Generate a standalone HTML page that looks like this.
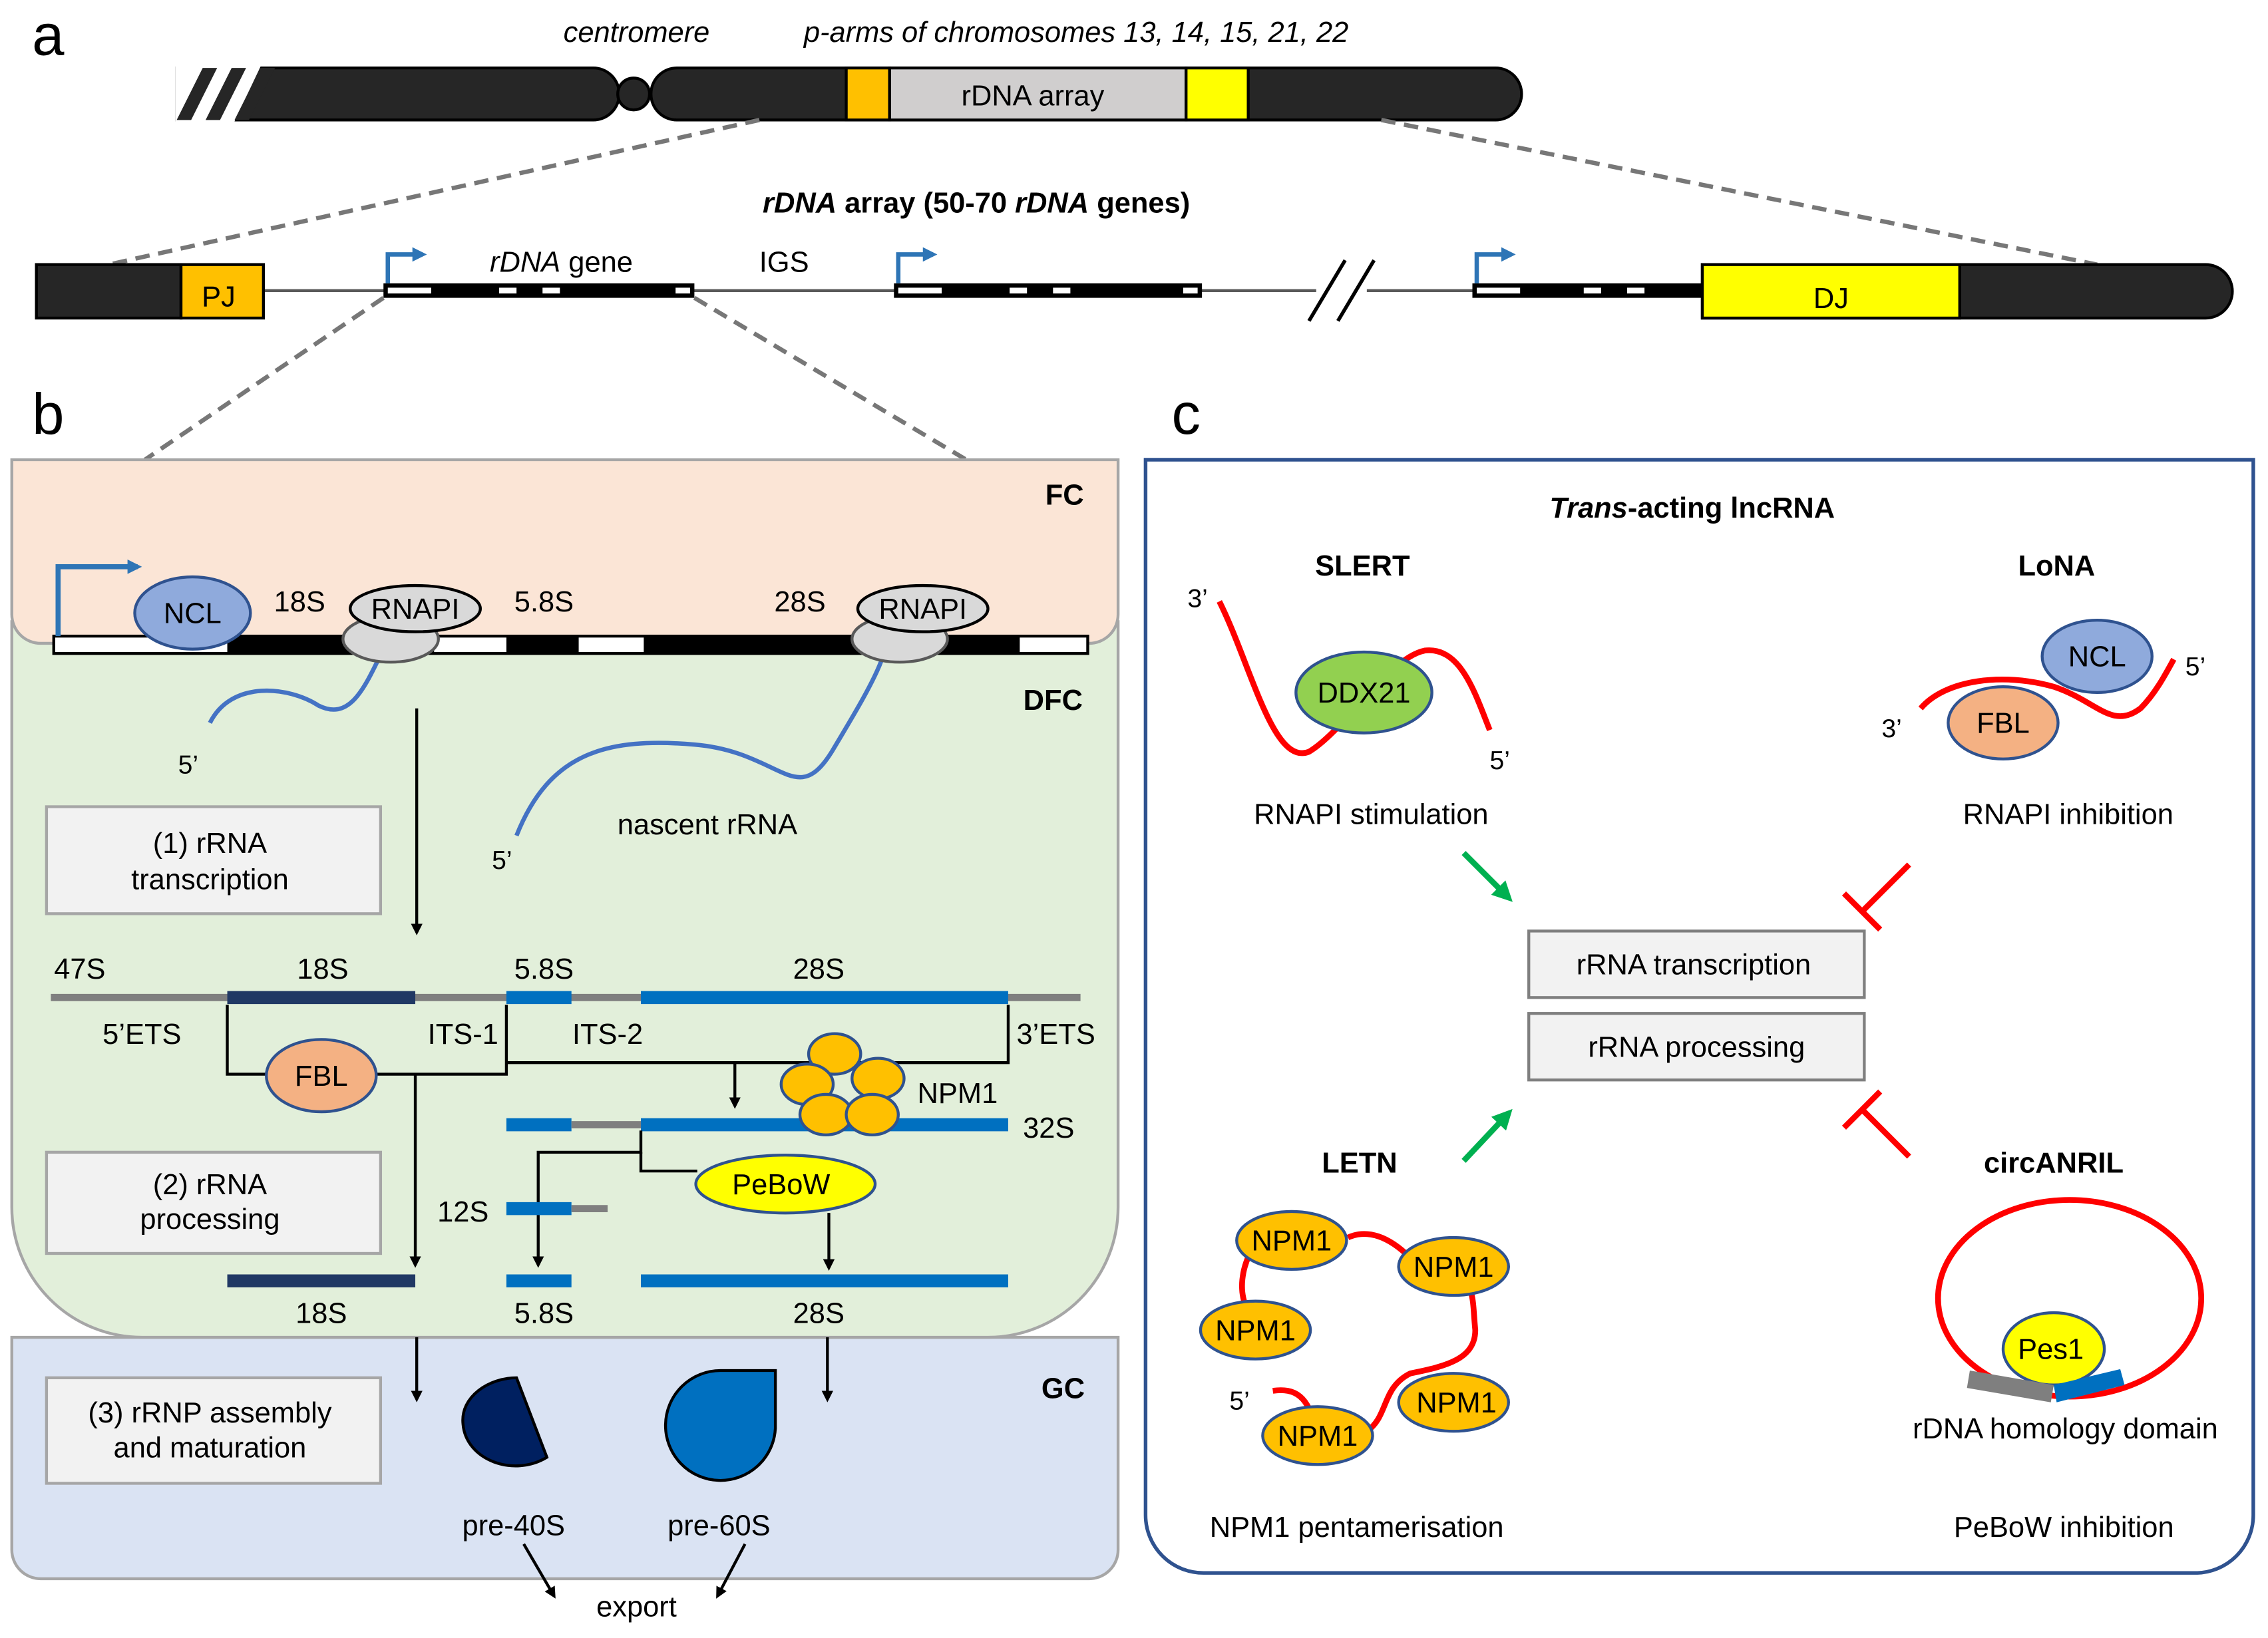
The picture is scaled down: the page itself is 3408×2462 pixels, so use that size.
<!DOCTYPE html>
<html><head><meta charset="utf-8"><style>
html,body{margin:0;padding:0;background:#fff;}
svg{display:block;}
text{font-family:"Liberation Sans",Arial,sans-serif;fill:#000;}
</style></head><body>
<svg width="3408" height="2462" viewBox="0 0 1568 1133" xmlns="http://www.w3.org/2000/svg">
<defs>
<marker id="ab" markerWidth="8" markerHeight="8" refX="6" refY="4" orient="auto" markerUnits="userSpaceOnUse"><path d="M0,0 L8,4 L0,8 z" fill="#000"/></marker>
<marker id="abl" markerWidth="10" markerHeight="10" refX="7" refY="5" orient="auto" markerUnits="userSpaceOnUse"><path d="M0,0 L10,5 L0,10 z" fill="#2e75b6"/></marker>
<marker id="ag" markerWidth="14" markerHeight="14" refX="10" refY="7" orient="auto" markerUnits="userSpaceOnUse"><path d="M0,0 L14,7 L0,14 z" fill="#00b050"/></marker>
</defs>

<!-- ===== a ===== -->
<text x="22" y="38" font-size="40">a</text>
<text x="440" y="29" font-size="20" font-style="italic" text-anchor="middle">centromere</text>
<text x="744" y="29" font-size="20" font-style="italic" text-anchor="middle">p-arms of chromosomes  13,  14,  15,  21,  22</text>
<path d="M122,47 H410 A18,18 0 0 1 410,83 H122 Z" fill="#262626" stroke="#000" stroke-width="2"/>
<polygon points="121,46 180,46 162,84 121,84" fill="#fff"/>
<polygon points="122,83 140,47 150,47 132,83" fill="#262626"/>
<polygon points="142,83 160,47 170,47 152,83" fill="#262626"/>
<polygon points="162,83 180,47 190,47 172,83" fill="#262626"/>
<circle cx="438" cy="65" r="11" fill="#262626" stroke="#000" stroke-width="2"/>
<rect x="450" y="47" width="602" height="36" rx="18" fill="#262626" stroke="#000" stroke-width="2"/>
<rect x="585" y="47" width="30" height="36" fill="#ffc000" stroke="#000" stroke-width="2"/>
<rect x="615" y="47" width="205" height="36" fill="#d0cece" stroke="#000" stroke-width="2"/>
<rect x="820" y="47" width="43" height="36" fill="#ffff00" stroke="#000" stroke-width="2"/>
<text x="714" y="73" font-size="20" text-anchor="middle">rDNA array</text>
<line x1="525" y1="83" x2="75" y2="183" stroke="#777" stroke-width="3" stroke-dasharray="10,6"/>
<line x1="955" y1="83" x2="1450" y2="183" stroke="#777" stroke-width="3" stroke-dasharray="10,6"/>
<text x="675" y="147" font-size="20" font-weight="bold" text-anchor="middle"><tspan font-style="italic">rDNA</tspan> array  (50-70 <tspan font-style="italic">rDNA</tspan> genes)</text>

<line x1="182" y1="201" x2="1180" y2="201" stroke="#595959" stroke-width="2"/>
<rect x="25" y="183" width="100" height="37" fill="#262626" stroke="#000" stroke-width="2"/>
<rect x="125" y="183" width="57" height="37" fill="#ffc000" stroke="#000" stroke-width="2"/>
<text x="151" y="212" font-size="20" text-anchor="middle">PJ</text>
<g>
<rect x="265" y="196" width="215" height="10" fill="#000"/>
<rect x="268" y="199" width="30" height="4" fill="#fff"/><rect x="345" y="199" width="12" height="4" fill="#fff"/><rect x="375" y="199" width="12" height="4" fill="#fff"/><rect x="467" y="199" width="10" height="4" fill="#fff"/>
</g>
<g transform="translate(353,0)">
<rect x="265" y="196" width="213" height="10" fill="#000"/>
<rect x="268" y="199" width="30" height="4" fill="#fff"/><rect x="345" y="199" width="12" height="4" fill="#fff"/><rect x="375" y="199" width="12" height="4" fill="#fff"/><rect x="465" y="199" width="10" height="4" fill="#fff"/>
</g>
<rect x="1018" y="196" width="160" height="10" fill="#000"/>
<rect x="1021" y="199" width="30" height="4" fill="#fff"/><rect x="1095" y="199" width="12" height="4" fill="#fff"/><rect x="1125" y="199" width="12" height="4" fill="#fff"/>
<path d="M1177,183 H1525 A18,18 0 0 1 1525,220 H1177 Z" fill="#262626" stroke="#000" stroke-width="2"/>
<rect x="1177" y="183" width="178" height="37" fill="#ffff00" stroke="#000" stroke-width="2"/>
<text x="1266" y="213" font-size="20" text-anchor="middle">DJ</text>
<rect x="910" y="190" width="35" height="22" fill="#fff"/>
<line x1="905" y1="222" x2="930" y2="180" stroke="#000" stroke-width="2.5"/>
<line x1="925" y1="222" x2="950" y2="180" stroke="#000" stroke-width="2.5"/>
<path d="M268,196 V176 H292" fill="none" stroke="#2e75b6" stroke-width="3" marker-end="url(#abl)"/>
<path d="M621,196 V176 H645" fill="none" stroke="#2e75b6" stroke-width="3" marker-end="url(#abl)"/>
<path d="M1021,196 V176 H1045" fill="none" stroke="#2e75b6" stroke-width="3" marker-end="url(#abl)"/>
<text x="388" y="188" font-size="20" text-anchor="middle"><tspan font-style="italic">rDNA</tspan> gene</text>
<text x="542" y="188" font-size="20" text-anchor="middle">IGS</text>
<line x1="265" y1="206" x2="100" y2="318" stroke="#777" stroke-width="3" stroke-dasharray="10,6"/>
<line x1="480" y1="206" x2="668" y2="318" stroke="#777" stroke-width="3" stroke-dasharray="10,6"/>

<!-- ===== b ===== -->
<text x="22" y="300" font-size="40">b</text>
<path d="M8,925 H773 V1072 A20,20 0 0 1 753,1092 H28 A20,20 0 0 1 8,1072 Z" fill="#dae3f3" stroke="#a6a6a6" stroke-width="2"/>
<path d="M8,430 H773 V835 A90,90 0 0 1 683,925 H98 A90,90 0 0 1 8,835 Z" fill="#e2efda" stroke="#a6a6a6" stroke-width="2"/>
<path d="M8,318 H773 V425 A20,20 0 0 1 753,445 H28 A20,20 0 0 1 8,425 Z" fill="#fbe5d6" stroke="#a6a6a6" stroke-width="2"/>
<text x="736" y="349" font-size="20" font-weight="bold" text-anchor="middle">FC</text>
<text x="728" y="491" font-size="20" font-weight="bold" text-anchor="middle">DFC</text>
<text x="735" y="967" font-size="20" font-weight="bold" text-anchor="middle">GC</text>

<rect x="37" y="440" width="715" height="12" fill="#fff" stroke="#000" stroke-width="2"/>
<rect x="157" y="440" width="143" height="12" fill="#000"/>
<rect x="350" y="440" width="50" height="12" fill="#000"/>
<rect x="445" y="440" width="260" height="12" fill="#000"/>
<path d="M40,440 V392 H95" fill="none" stroke="#2e75b6" stroke-width="3.5" marker-end="url(#abl)"/>
<ellipse cx="133" cy="424" rx="40" ry="25" fill="#8faadc" stroke="#2f528f" stroke-width="2"/>
<text x="133" y="431" font-size="20" text-anchor="middle">NCL</text>
<text x="207" y="423" font-size="20" text-anchor="middle">18S</text>
<text x="376" y="423" font-size="20" text-anchor="middle">5.8S</text>
<text x="553" y="423" font-size="20" text-anchor="middle">28S</text>
<path d="M145,500 C160,470 200,475 220,488 C240,498 250,480 262,455" fill="none" stroke="#4472c4" stroke-width="3"/>
<path d="M357,578 C380,520 420,510 480,515 C540,520 550,560 575,520 C590,495 605,470 610,455" fill="none" stroke="#4472c4" stroke-width="3"/>
<ellipse cx="270" cy="442" rx="33" ry="16" fill="#d9d9d9" stroke="#595959" stroke-width="2"/>
<ellipse cx="287" cy="421" rx="45" ry="16" fill="#d9d9d9" stroke="#000" stroke-width="2"/>
<text x="287" y="428" font-size="20" text-anchor="middle">RNAPI</text>
<ellipse cx="622" cy="442" rx="33" ry="16" fill="#d9d9d9" stroke="#595959" stroke-width="2"/>
<ellipse cx="638" cy="421" rx="45" ry="16" fill="#d9d9d9" stroke="#000" stroke-width="2"/>
<text x="638" y="428" font-size="20" text-anchor="middle">RNAPI</text>
<text x="130" y="535" font-size="18" text-anchor="middle">5’</text>
<text x="347" y="601" font-size="18" text-anchor="middle">5’</text>
<text x="489" y="577" font-size="20" text-anchor="middle">nascent  rRNA</text>

<rect x="32" y="558" width="231" height="74" fill="#f2f2f2" stroke="#a6a6a6" stroke-width="2"/>
<text x="145" y="590" font-size="20" text-anchor="middle">(1) rRNA</text>
<text x="145" y="615" font-size="20" text-anchor="middle">transcription</text>
<line x1="288" y1="490" x2="288" y2="645" stroke="#000" stroke-width="2" marker-end="url(#ab)"/>

<line x1="35" y1="690" x2="747" y2="690" stroke="#7f7f7f" stroke-width="5"/>
<line x1="157" y1="690" x2="287" y2="690" stroke="#203864" stroke-width="9"/>
<line x1="350" y1="690" x2="395" y2="690" stroke="#0070c0" stroke-width="9"/>
<line x1="443" y1="690" x2="697" y2="690" stroke="#0070c0" stroke-width="9"/>
<text x="55" y="677" font-size="20" text-anchor="middle">47S</text>
<text x="223" y="677" font-size="20" text-anchor="middle">18S</text>
<text x="376" y="677" font-size="20" text-anchor="middle">5.8S</text>
<text x="566" y="677" font-size="20" text-anchor="middle">28S</text>
<text x="98" y="722" font-size="20" text-anchor="middle">5’ETS</text>
<text x="320" y="722" font-size="20" text-anchor="middle">ITS-1</text>
<text x="420" y="722" font-size="20" text-anchor="middle">ITS-2</text>
<text x="730" y="722" font-size="20" text-anchor="middle">3’ETS</text>
<path d="M157,695 V743 H350 V695" fill="none" stroke="#000" stroke-width="2"/>
<path d="M350,735 H697 V695" fill="none" stroke="#000" stroke-width="2"/>
<line x1="508" y1="735" x2="508" y2="765" stroke="#000" stroke-width="2" marker-end="url(#ab)"/>
<line x1="287" y1="743" x2="287" y2="875" stroke="#000" stroke-width="2" marker-end="url(#ab)"/>
<ellipse cx="222" cy="744" rx="38" ry="25" fill="#f4b183" stroke="#2f528f" stroke-width="2"/>
<text x="222" y="751" font-size="20" text-anchor="middle">FBL</text>

<line x1="350" y1="778" x2="395" y2="778" stroke="#0070c0" stroke-width="9"/>
<line x1="395" y1="778" x2="443" y2="778" stroke="#7f7f7f" stroke-width="5"/>
<line x1="443" y1="778" x2="697" y2="778" stroke="#0070c0" stroke-width="9"/>
<g fill="#ffc000" stroke="#2f528f" stroke-width="2">
<ellipse cx="577" cy="729" rx="18" ry="14"/>
<ellipse cx="558" cy="750" rx="18" ry="14"/>
<ellipse cx="607" cy="746" rx="18" ry="14"/>
<ellipse cx="571" cy="771" rx="18" ry="14"/>
<ellipse cx="603" cy="771" rx="18" ry="14"/>
</g>
<text x="662" y="763" font-size="20" text-anchor="middle">NPM1</text>
<text x="725" y="787" font-size="20" text-anchor="middle">32S</text>
<path d="M443,782 V797 H372 V875" fill="none" stroke="#000" stroke-width="2" marker-end="url(#ab)"/>
<path d="M443,797 V810 H482" fill="none" stroke="#000" stroke-width="2"/>
<ellipse cx="543" cy="819" rx="62" ry="20" fill="#ffff00" stroke="#2f528f" stroke-width="2"/>
<text x="540" y="826" font-size="20" text-anchor="middle">PeBoW</text>
<line x1="573" y1="839" x2="573" y2="877" stroke="#000" stroke-width="2" marker-end="url(#ab)"/>
<line x1="350" y1="836" x2="395" y2="836" stroke="#0070c0" stroke-width="9"/>
<line x1="395" y1="836" x2="420" y2="836" stroke="#7f7f7f" stroke-width="5"/>
<text x="320" y="845" font-size="20" text-anchor="middle">12S</text>
<rect x="32" y="797" width="231" height="70" fill="#f2f2f2" stroke="#a6a6a6" stroke-width="2"/>
<text x="145" y="826" font-size="20" text-anchor="middle">(2) rRNA</text>
<text x="145" y="850" font-size="20" text-anchor="middle">processing</text>

<line x1="157" y1="886" x2="287" y2="886" stroke="#203864" stroke-width="9"/>
<line x1="350" y1="886" x2="395" y2="886" stroke="#0070c0" stroke-width="9"/>
<line x1="443" y1="886" x2="697" y2="886" stroke="#0070c0" stroke-width="9"/>
<text x="222" y="915" font-size="20" text-anchor="middle">18S</text>
<text x="376" y="915" font-size="20" text-anchor="middle">5.8S</text>
<text x="566" y="915" font-size="20" text-anchor="middle">28S</text>

<line x1="288" y1="925" x2="288" y2="968" stroke="#000" stroke-width="2" marker-end="url(#ab)"/>
<line x1="572" y1="925" x2="572" y2="968" stroke="#000" stroke-width="2" marker-end="url(#ab)"/>
<rect x="32" y="953" width="231" height="73" fill="#f2f2f2" stroke="#a6a6a6" stroke-width="2"/>
<text x="145" y="984" font-size="20" text-anchor="middle">(3) rRNP assembly</text>
<text x="145" y="1008" font-size="20" text-anchor="middle">and  maturation</text>
<path d="M357,953 L378,1008 C355,1022 322,1010 320,985 C318,966 338,953 357,953 Z" fill="#002060" stroke="#000" stroke-width="2"/>
<path d="M536,948 V988 A38,38 0 1 1 498,948 Z" fill="#0070c0" stroke="#000" stroke-width="2"/>
<text x="355" y="1062" font-size="20" text-anchor="middle">pre-40S</text>
<text x="497" y="1062" font-size="20" text-anchor="middle">pre-60S</text>
<text x="440" y="1118" font-size="20" text-anchor="middle">export</text>
<line x1="362" y1="1068" x2="383" y2="1104" stroke="#000" stroke-width="2" marker-end="url(#ab)"/>
<line x1="515" y1="1068" x2="496" y2="1104" stroke="#000" stroke-width="2" marker-end="url(#ab)"/>

<!-- ===== c ===== -->
<text x="810" y="300" font-size="40">c</text>
<path d="M792,318 H1558 V1048 A40,40 0 0 1 1518,1088 H832 A40,40 0 0 1 792,1048 Z" fill="#fff" stroke="#2f528f" stroke-width="2.5"/>
<text x="1170" y="358" font-size="20" font-weight="bold" text-anchor="middle"><tspan font-style="italic">Trans</tspan>-acting lncRNA</text>
<text x="942" y="398" font-size="20" font-weight="bold" text-anchor="middle">SLERT</text>
<text x="1422" y="398" font-size="20" font-weight="bold" text-anchor="middle">LoNA</text>
<path d="M843,416 C865,460 880,530 905,520 C930,505 960,455 985,450 C1010,447 1020,480 1030,505" fill="none" stroke="#ff0000" stroke-width="4"/>
<ellipse cx="943" cy="479" rx="47" ry="28" fill="#92d050" stroke="#2f528f" stroke-width="2"/>
<text x="943" y="486" font-size="20" text-anchor="middle">DDX21</text>
<text x="828" y="420" font-size="18" text-anchor="middle">3’</text>
<text x="1037" y="532" font-size="18" text-anchor="middle">5’</text>
<text x="948" y="570" font-size="20" text-anchor="middle">RNAPI stimulation</text>

<path d="M1328,490 C1345,470 1385,465 1420,475 C1450,485 1460,505 1480,490 C1490,480 1497,467 1503,456" fill="none" stroke="#ff0000" stroke-width="4"/>
<ellipse cx="1450" cy="454" rx="38" ry="25" fill="#8faadc" stroke="#2f528f" stroke-width="2"/>
<text x="1450" y="461" font-size="20" text-anchor="middle">NCL</text>
<ellipse cx="1385" cy="500" rx="38" ry="25" fill="#f4b183" stroke="#2f528f" stroke-width="2"/>
<text x="1385" y="507" font-size="20" text-anchor="middle">FBL</text>
<text x="1308" y="510" font-size="18" text-anchor="middle">3’</text>
<text x="1518" y="467" font-size="18" text-anchor="middle">5’</text>
<text x="1430" y="570" font-size="20" text-anchor="middle">RNAPI inhibition</text>

<line x1="1012" y1="590" x2="1043" y2="621" stroke="#00b050" stroke-width="4" marker-end="url(#ag)"/>
<line x1="1012" y1="803" x2="1043" y2="770" stroke="#00b050" stroke-width="4" marker-end="url(#ag)"/>
<line x1="1320" y1="598" x2="1288" y2="630" stroke="#ff0000" stroke-width="4"/>
<line x1="1275" y1="618" x2="1300" y2="643" stroke="#ff0000" stroke-width="4"/>
<line x1="1320" y1="800" x2="1288" y2="768" stroke="#ff0000" stroke-width="4"/>
<line x1="1275" y1="780" x2="1300" y2="755" stroke="#ff0000" stroke-width="4"/>
<rect x="1057" y="644" width="232" height="46" fill="#f2f2f2" stroke="#7f7f7f" stroke-width="2"/>
<text x="1171" y="674" font-size="20" text-anchor="middle">rRNA transcription</text>
<rect x="1057" y="701" width="232" height="46" fill="#f2f2f2" stroke="#7f7f7f" stroke-width="2"/>
<text x="1173" y="731" font-size="20" text-anchor="middle">rRNA processing</text>

<text x="940" y="811" font-size="20" font-weight="bold" text-anchor="middle">LETN</text>
<text x="1420" y="811" font-size="20" font-weight="bold" text-anchor="middle">circANRIL</text>
<path d="M880,962 C895,960 905,965 910,990 M945,990 C960,980 955,960 975,950 C1000,945 1020,940 1020,920 C1018,900 1020,895 1010,880 M975,870 C960,855 945,850 932,856 M870,858 C860,870 855,890 862,905" fill="none" stroke="#ff0000" stroke-width="4"/>
<g fill="#ffc000" stroke="#2f528f" stroke-width="2">
<ellipse cx="893" cy="858" rx="38" ry="20"/>
<ellipse cx="1005" cy="876" rx="38" ry="20"/>
<ellipse cx="868" cy="920" rx="38" ry="20"/>
<ellipse cx="1005" cy="970" rx="38" ry="20"/>
<ellipse cx="911" cy="993" rx="38" ry="20"/>
</g>
<text x="893" y="865" font-size="20" text-anchor="middle">NPM1</text>
<text x="1005" y="883" font-size="20" text-anchor="middle">NPM1</text>
<text x="868" y="927" font-size="20" text-anchor="middle">NPM1</text>
<text x="1007" y="977" font-size="20" text-anchor="middle">NPM1</text>
<text x="911" y="1000" font-size="20" text-anchor="middle">NPM1</text>
<text x="857" y="975" font-size="18" text-anchor="middle">5’</text>
<text x="938" y="1063" font-size="20" text-anchor="middle">NPM1 pentamerisation</text>

<ellipse cx="1431" cy="898" rx="91" ry="68" fill="none" stroke="#ff0000" stroke-width="4"/>
<ellipse cx="1420" cy="933" rx="35" ry="25" fill="#ffff00" stroke="#2f528f" stroke-width="2"/>
<text x="1418" y="940" font-size="20" text-anchor="middle">Pes1</text>
<polygon points="1362,948 1420,958 1418,970 1360,960" fill="#7f7f7f"/>
<polygon points="1420,958 1466,947 1469,958 1422,970" fill="#0070c0"/>
<text x="1428" y="995" font-size="20" text-anchor="middle">rDNA homology  domain</text>
<text x="1427" y="1063" font-size="20" text-anchor="middle">PeBoW  inhibition</text>
</svg>
</body></html>
